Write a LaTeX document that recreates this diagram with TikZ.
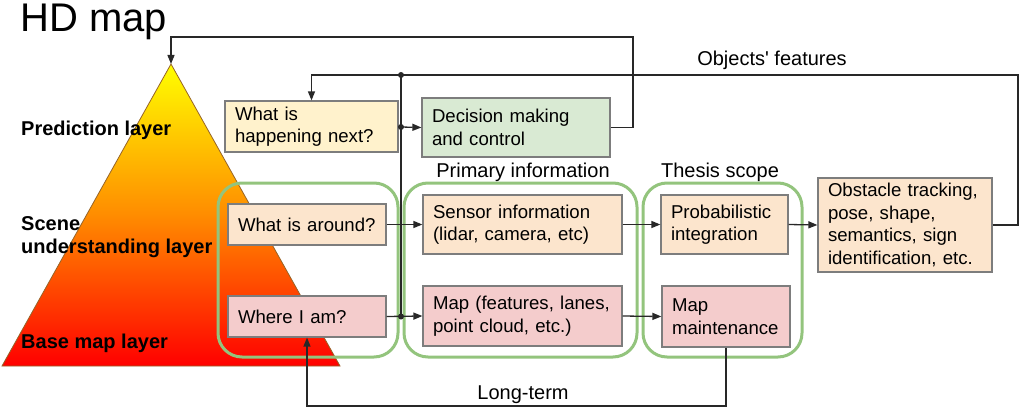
\documentclass[tikz,border=0pt]{standalone}
\usepackage{fontspec}
\setmainfont{Liberation Sans}
\usetikzlibrary{arrows.meta}
\definecolor{peach}{RGB}{252,229,205}
\definecolor{pinkbox}{RGB}{244,204,204}
\definecolor{yelbox}{RGB}{255,242,204}
\definecolor{grnbox}{RGB}{217,234,211}
\definecolor{grnline}{RGB}{147,196,125}
\definecolor{boxgray}{RGB}{125,125,125}
\definecolor{linec}{RGB}{40,40,40}
\definecolor{triedge}{RGB}{150,100,40}
\newcommand{\bodyfont}{\fontsize{18.6}{22.5}\selectfont\hyphenpenalty=10000\exhyphenpenalty=10000}
\newcommand{\lblfont}{\fontsize{20}{24}\selectfont}
\newcommand{\layerfont}{\fontsize{20}{24}\selectfont\bfseries}
\begin{document}
\begin{tikzpicture}[x=1pt,y=-1pt,
  box/.style={draw=boxgray, line width=1.2pt, inner xsep=10pt, inner ysep=0pt, align=left, font=\bodyfont},
  group/.style={draw=grnline, line width=3pt, rounded corners=24pt, inner sep=0pt},
  conn/.style={draw=linec, line width=1.3pt},
  arr/.style={conn, -{Triangle[length=9pt,width=7pt]}},
  lbl/.style={font=\lblfont, inner sep=0pt, anchor=base},
  layer/.style={font=\layerfont, inner sep=0pt, anchor=base west, align=left}]
\useasboundingbox (0,0) rectangle (1024,412);

% pyramid
\coordinate (apex) at (171,64);
\coordinate (bl) at (2,366);
\coordinate (br) at (340,366);
\shade[top color={rgb,255:red,255;green,255;blue,0}, bottom color={rgb,255:red,255;green,0;blue,0}, middle color={rgb,255:red,255;green,140;blue,0}] (apex) -- (br) -- (bl) -- cycle;
\draw[draw=triedge, line width=0.8pt] (apex) -- (br) -- (bl) -- cycle;

% title and layer labels
\node[inner sep=0pt, anchor=base west, font=\fontsize{40}{45}\selectfont] (title) at (20,32) {HD map};
\node[layer] (lpred) at (21,135) {Prediction layer};
\node[layer] (lscene1) at (21,230) {Scene};
\node[layer] (lscene2) at (21,253) {understanding layer};
\node[layer] (lbase) at (21,348) {Base map layer};

% green groups
\node[group, minimum width=180pt, minimum height=174pt] (g1) at (308,270) {};
\node[group, minimum width=233pt, minimum height=174pt] (g2) at (520.5,270) {};
\node[group, minimum width=159pt, minimum height=174pt] (g3) at (722.5,270) {};

% boxes
\node[box, fill=yelbox, text width=153pt, minimum height=51pt] (hap) at (311.5,126.5) {What is\\happening next?};
\node[box, fill=grnbox, text width=168pt, minimum height=59pt] (dec) at (516,127.5) {Decision making\\and control};
\node[box, fill=peach, text width=138pt, minimum height=41pt] (around) at (307,224.5) {What is around?};
\node[box, fill=pinkbox, text width=138pt, minimum height=41pt] (where) at (307,316.5) {Where I am?};
\node[box, fill=peach, text width=179pt, minimum height=59pt] (sens) at (522.5,224.5) {Sensor information\\(lidar, camera, etc)};
\node[box, fill=pinkbox, text width=179pt, minimum height=60pt] (map) at (522.5,316) {Map (features, lanes,\\point cloud, etc.)};
\node[box, fill=peach, text width=107pt, minimum height=59pt] (prob) at (724.5,224.5) {Probabilistic\\integration};
\node[box, fill=pinkbox, text width=108pt, minimum height=61pt] (maint) at (726,316.5) {Map\\maintenance};
\node[box, fill=peach, text width=154pt, minimum height=94pt] (obs) at (905,225) {Obstacle tracking,\\pose, shape,\\semantics, sign\\identification, etc.};

% labels
\node[lbl] (lprim) at (523,177) {Primary information};
\node[lbl] (lthes) at (720,177) {Thesis scope};
\node[lbl] (lobj) at (772,66) {Objects\textquotesingle\ features};
\node[lbl] (llong) at (523,399) {Long-term};

% coordinates
\coordinate (ctop) at (633,37);
\coordinate (cright) at (1018,75);
\coordinate (d1) at (401,75);
\coordinate (d2) at (401,127);
\coordinate (d3) at (401,316.5);
\coordinate (lt) at (307,406);

% connectors
\draw[arr] (dec.east) -| (ctop) -| (apex);
\draw[arr] (obs.east) -| (cright) -| (hap.north);
\draw[conn] (d1) -- (d3);
\draw[conn] (hap.east) -- (d2);
\draw[arr] (d2) -- (dec.west);
\draw[arr] (around.east) -- (sens.west);
\draw[arr] (where.east) -- (map.west);
\draw[arr] (sens.east) -- (prob.west);
\draw[arr] (map.east) -- (maint.west);
\draw[arr] (prob.east) -- (obs.west);
\draw[arr] (maint.south) |- (lt) -- (where.south);
\fill[linec] (d1) circle (3pt) (d2) circle (3pt) (d3) circle (3pt);
\end{tikzpicture}
\end{document}
